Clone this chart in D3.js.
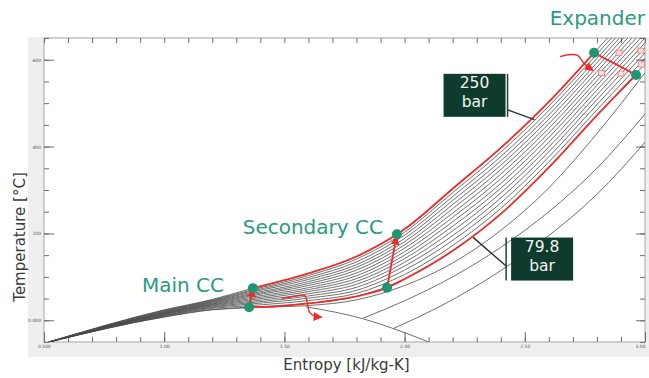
<!DOCTYPE html>
<html>
<head>
<meta charset="utf-8">
<script src="https://cdn.jsdelivr.net/npm/d3@7"></script>
<style>
  html, body { margin: 0; padding: 0; background: #fff; }
  svg { display: block; }
</style>
</head>
<body>
<div id="chart"></div>
<script>
// entropy grid [kJ/kg-K] shared by the isobars
const sGrid = [0.52, 1.0, 1.2, 1.35, 1.6, 1.8, 2.0, 2.2, 2.4, 2.6, 2.8, 3.0];

// temperatures [C] of each isobar on sGrid, 250 bar at top down to 79.8 bar
const isobar250 = [-50, 24, 48, 71, 108, 147, 210, 303, 397, 503, 623, 745];
const isobarsMid = [
  [-50, 23, 46.5, 68, 103, 141, 203, 294, 387, 493, 613, 735],
  [-50, 21.5, 45, 65.5, 98.5, 134.5, 196, 285, 377, 483, 603, 725],
  [-50, 20.5, 43.5, 63, 94, 128, 188.5, 276, 367, 473, 593, 714.5],
  [-50, 19, 42, 60, 89, 122, 181, 266.5, 357, 463, 583, 704],
  [-50, 18, 40.5, 57.5, 84.5, 115.5, 173.5, 257, 347, 452.5, 572.5, 693.5],
  [-50, 17, 39, 55, 80, 109, 166, 247, 336.5, 442, 562, 683],
  [-50, 16, 37.5, 52, 75, 102.5, 158, 237, 326, 431.5, 551.5, 672],
  [-50, 15, 36, 49, 70.5, 96, 150, 227, 315, 421, 541, 661],
  [-50, 14, 34.5, 46, 66, 89.5, 142, 216.5, 304, 410, 530, 650],
  [-50, 13, 33, 43, 61, 83, 133.5, 206, 293, 399, 519, 639],
  [-50, 11.5, 31, 40, 56, 76, 125, 195, 281.5, 388, 508, 627.5],
  [-50, 10.5, 29.5, 37, 51, 69, 115.5, 184, 270, 376.5, 496.5, 615.5],
  [-50, 9.5, 27.5, 33.5, 45.5, 62, 105.5, 172, 257.5, 364.5, 484.5, 603]
];
const isobar79 = [-50, 8, 25, 30, 39, 55, 95, 160, 245, 352, 472, 590];

// lower pressure isobars, [s, T] pairs
const isobarLow1 = [[0.52, -50], [1.0, 7.5], [1.2, 24], [1.35, 29], [1.6, 34], [1.8, 47], [2.0, 80], [2.2, 132], [2.4, 207], [2.6, 305], [2.8, 430], [3.0, 570]];
const isobarLow2 = [[1.828, 5], [2.0, 45], [2.2, 100], [2.4, 168], [2.6, 250], [2.8, 350], [3.0, 475]];
const isobarLow3 = [[1.953, -19], [2.147, 32], [2.426, 124], [2.6, 195], [2.8, 290], [3.0, 410]];
const vaporLine = [[1.59, 31], [1.83, 3], [1.953, -19], [2.1, -50]];

// cycle
const highSide = [[1.369, 74], [1.6, 108], [1.8, 147], [1.968, 198], [2.0, 210], [2.2, 303], [2.4, 397], [2.6, 503], [2.788, 616]];
const lowSide = [[1.353, 30], [1.44, 31], [1.6, 39], [1.8, 55], [1.927, 75], [2.0, 95], [2.2, 160], [2.4, 245], [2.6, 352], [2.8, 472], [2.963, 565]];
const mainCC = [[1.353, 30], [1.369, 72]];
const secondaryCC = [[1.927, 75], [1.966, 193]];
const expander = [[2.788, 616], [2.963, 565]];
const statePoints = [[1.369, 74], [1.353, 30], [1.968, 198], [1.927, 75], [2.788, 616], [2.963, 565]];

// hand drawn arrows and small markers
const arrowLow = [[1.49, 50], [1.55, 56], [1.585, 57], [1.595, 40], [1.605, 18], [1.625, 10], [1.655, 7]];
const arrowTop = [[2.646, 607], [2.69, 612], [2.72, 610], [2.74, 596], [2.76, 585], [2.784, 575]];
const squares = [[2.82, 569], [2.90, 568], [2.892, 616], [2.983, 621], [2.986, 589]];

// axis ticks
const xTicks = [0.5, 1.0, 1.5, 2.0, 2.5, 3.0];
const xTickLabels = ['0.500', '1.00', '1.50', '2.00', '2.50', '3.00'];
const yTicks = [0, 200, 400, 600];
const yTickLabels = ['0.000', '200', '400', '600'];

const labels = [
  { text: 'Main CC', at: [1.369, 74], dx: -29, dy: 4, anchor: 'end' },
  { text: 'Secondary CC', at: [1.968, 198], dx: -14, dy: 0, anchor: 'end' },
  { text: 'Expander', at: [3.0, 616], dx: 0, dy: -28, anchor: 'end' }
];
const pressureBoxes = [
  { lines: ['250', 'bar'], at: [2.291, 518], tip: [2.54, 462], barSide: 'right' },
  { lines: ['79.8', 'bar'], at: [2.572, 141], tip: [2.285, 191], barSide: 'left' }
];

const W = 649, H = 378;
const margin = { top: 38, right: 4, bottom: 36, left: 44 };
const teal = '#2b9a7f', red = '#ec2d2a', dark = '#0f3a2e';

const svg = d3.select('#chart').append('svg').attr('width', W).attr('height', H);

const x = d3.scaleLinear().domain([0.5, 3.0]).range([margin.left, W - margin.right]);
const y = d3.scaleLinear().domain([-50, 650]).range([H - margin.bottom, margin.top]);

// grey panel and plot frame
svg.append('rect').attr('x', 28).attr('y', 37).attr('width', W - 28).attr('height', 320).attr('fill', '#efefef');
svg.append('rect')
  .attr('x', x(0.5)).attr('y', y(650))
  .attr('width', x(3.0) - x(0.5)).attr('height', y(-50) - y(650))
  .attr('fill', '#fff').attr('stroke', '#a8a8a8');

const defs = svg.append('defs');
defs.append('clipPath').attr('id', 'plot')
  .append('rect').attr('x', x(0.5)).attr('y', y(650))
  .attr('width', x(3.0) - x(0.5)).attr('height', y(-50) - y(650));
defs.append('marker').attr('id', 'head')
  .attr('viewBox', '0 0 10 10').attr('refX', 9).attr('refY', 5)
  .attr('markerWidth', 9).attr('markerHeight', 9).attr('markerUnits', 'userSpaceOnUse')
  .attr('orient', 'auto')
  .append('path').attr('d', 'M0,0 L10,5 L0,10 Z').attr('fill', red);

// ticks, all pointing inward
function ticks(axis, pos, values, size, fmt) {
  const g = svg.append('g').attr('transform', pos)
    .call(axis.tickValues(values).tickSize(size).tickPadding(3).tickFormat(fmt || ''));
  g.select('.domain').remove();
  g.selectAll('line').attr('stroke', '#6d6d6d');
  g.selectAll('text').attr('font-size', 4.5).attr('fill', '#555').attr('font-family', 'DejaVu Sans');
  return g;
}
const xMinor = d3.range(5, 31).map(d => d / 10);
const yMinor = d3.range(-50, 651, 50);
const bottomY = y(-50), topY = y(650);
ticks(d3.axisBottom(x), `translate(0,${bottomY})`, xMinor, -5);
ticks(d3.axisBottom(x), `translate(0,${bottomY})`, xTicks, -10, (d, i) => xTickLabels[i])
  .selectAll('text').filter(d => d === 3.0).attr('text-anchor', 'end');
ticks(d3.axisTop(x), `translate(0,${topY})`, xMinor, -5);
ticks(d3.axisLeft(y), `translate(${x(0.5)},0)`, yMinor, -5);
ticks(d3.axisLeft(y), `translate(${x(0.5)},0)`, yTicks, -10, (d, i) => yTickLabels[i]);
ticks(d3.axisRight(y), `translate(${x(3.0)},0)`, yMinor, -5);
ticks(d3.axisRight(y), `translate(${x(3.0)},0)`, yTicks, -9);

// isobars
const line = d3.line().x(d => x(d[0])).y(d => y(d[1])).curve(d3.curveMonotoneX);
const plot = svg.append('g').attr('clip-path', 'url(#plot)');
const gridded = [isobar250, ...isobarsMid, isobar79].map(row => row.map((t, i) => [sGrid[i], t]));
plot.selectAll('.isobar')
  .data([...gridded, isobarLow1, isobarLow2, isobarLow3, vaporLine])
  .enter().append('path')
  .attr('class', 'isobar')
  .attr('d', line)
  .attr('fill', 'none')
  .attr('stroke', '#4a4a4a')
  .attr('stroke-width', 0.8);

// cycle
const straight = d3.line().x(d => x(d[0])).y(d => y(d[1]));
const cycle = svg.append('g').attr('fill', 'none').attr('stroke', red).attr('stroke-width', 1.8);
cycle.append('path').attr('d', line(highSide));
cycle.append('path').attr('d', line(lowSide));
[mainCC, secondaryCC].forEach(seg => cycle.append('path').attr('d', straight(seg)).attr('marker-end', 'url(#head)'));
cycle.append('path').attr('d', straight(expander));
[arrowLow, arrowTop].forEach(a => cycle.append('path')
  .attr('d', straight.curve(d3.curveCatmullRom)(a))
  .attr('stroke-width', 1.4).attr('marker-end', 'url(#head)'));

svg.selectAll('.sq').data(squares).enter().append('rect')
  .attr('x', d => x(d[0]) - 3).attr('y', d => y(d[1]) - 2.5)
  .attr('width', 6).attr('height', 5)
  .attr('fill', '#fde3e3').attr('stroke', '#f07070').attr('stroke-width', 0.8);

svg.selectAll('.pt').data(statePoints).enter().append('circle')
  .attr('cx', d => x(d[0])).attr('cy', d => y(d[1])).attr('r', 5)
  .attr('fill', '#1e9674');

// labels
svg.selectAll('.lbl').data(labels).enter().append('text')
  .attr('x', d => x(d.at[0]) + d.dx).attr('y', d => y(d.at[1]) + d.dy)
  .attr('text-anchor', d => d.anchor)
  .attr('font-family', 'DejaVu Sans').attr('font-size', 20).attr('fill', teal)
  .text(d => d.text);

// pressure call-outs
const bw = 62, bh = 43;
pressureBoxes.forEach(b => {
  const cx = x(b.at[0]), cy = y(b.at[1]);
  const g = svg.append('g');
  g.append('rect').attr('x', cx - bw / 2).attr('y', cy - bh / 2).attr('width', bw).attr('height', bh).attr('fill', dark);
  b.lines.forEach((t, i) => g.append('text')
    .attr('x', cx).attr('y', cy - 7 + i * 18.5)
    .attr('text-anchor', 'middle')
    .attr('font-family', 'DejaVu Sans').attr('font-size', 15.5).attr('fill', '#f2f5f2')
    .text(t));
  const bx = b.barSide === 'right' ? cx + bw / 2 + 2 : cx - bw / 2 - 5;
  const by = b.barSide === 'right' ? cy + bh / 2 - 7 : cy + 7;
  g.append('line').attr('x1', bx).attr('x2', bx).attr('y1', cy - bh / 2).attr('y2', cy + bh / 2)
    .attr('stroke', '#2a3b36').attr('stroke-width', 1.5);
  g.append('line').attr('x1', bx).attr('y1', by).attr('x2', x(b.tip[0])).attr('y2', y(b.tip[1]))
    .attr('stroke', '#2a3b36').attr('stroke-width', 1.5);
});

// axis titles
svg.append('text')
  .attr('x', (x(0.5) + x(3.0)) / 2 + 2).attr('y', 370)
  .attr('text-anchor', 'middle')
  .attr('font-family', 'DejaVu Sans').attr('font-size', 15).attr('fill', '#3a3a3a')
  .text('Entropy [kJ/kg-K]');
svg.append('text')
  .attr('transform', `translate(25,${(y(650) + y(-50)) / 2 + 47}) rotate(-90)`)
  .attr('text-anchor', 'middle')
  .attr('font-family', 'DejaVu Sans').attr('font-size', 15).attr('fill', '#3a3a3a')
  .text('Temperature [°C]');
</script>
</body>
</html>
